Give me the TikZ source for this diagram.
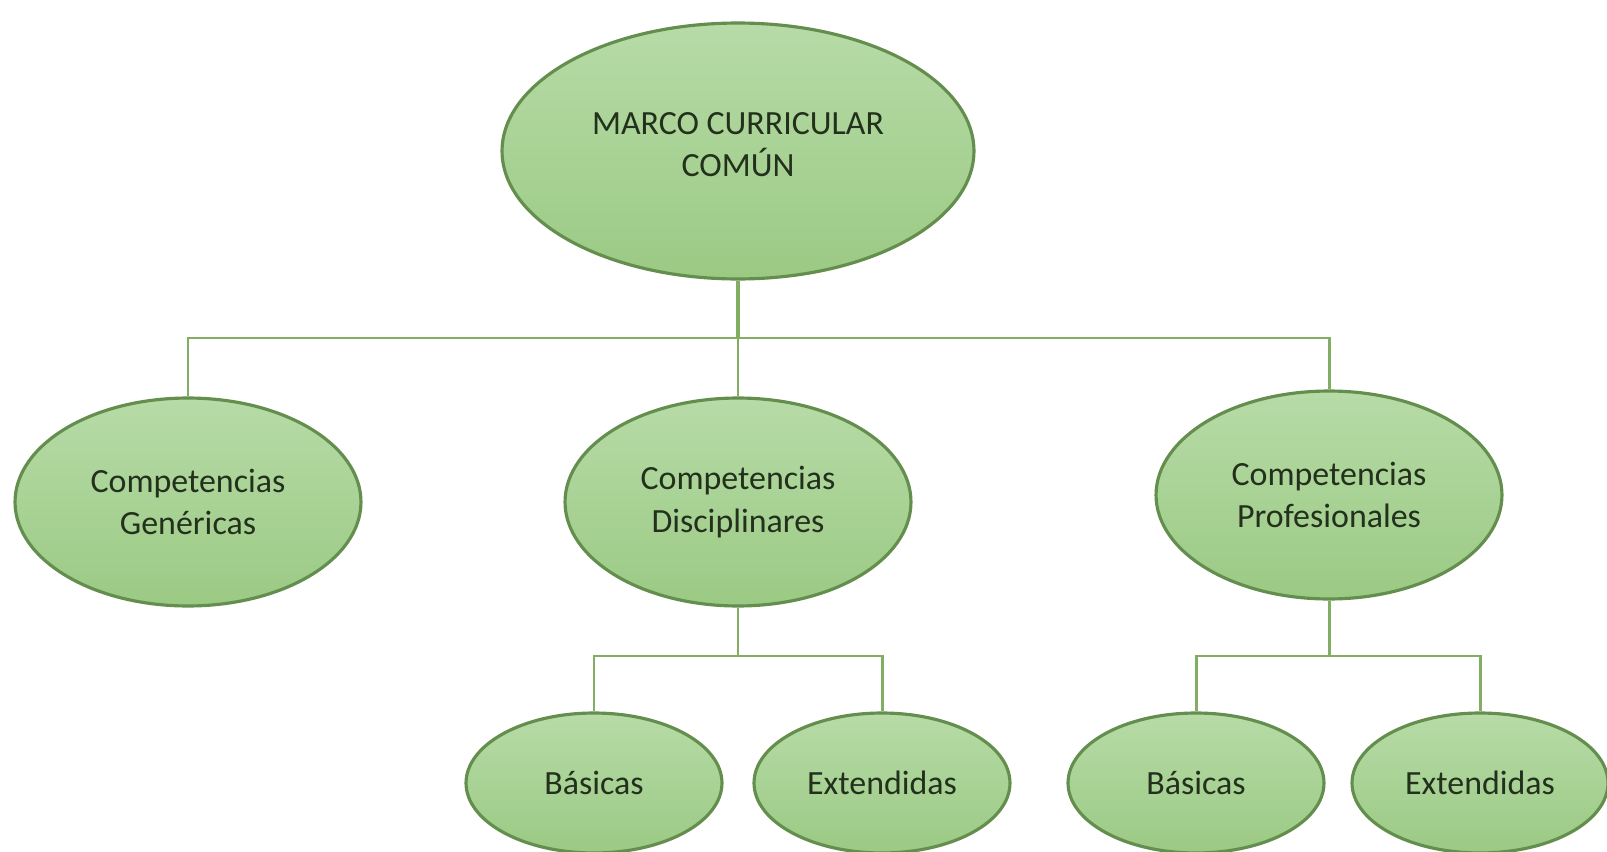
\documentclass[tikz,border=0pt]{standalone}
\usepackage{fontspec}
\setmainfont{Carlito}
\usepackage{tikz}
\usetikzlibrary{shapes.geometric, positioning}
\usepackage{xcolor}
\definecolor{verdechiaro}{HTML}{B7DBA7}
\definecolor{verdescuro}{HTML}{9BCA84}
\definecolor{bordoverde}{HTML}{648E4D}
\definecolor{lineaverde}{HTML}{82AE64}
\definecolor{testoverde}{HTML}{22301C}
\tikzset{
    elisse/.style = {ellipse, draw = bordoverde, line width = 1.8pt,
        top color = verdechiaro, bottom color = verdescuro,
        inner sep = 0pt, align = center, text = testoverde,
        font = \fontsize{19.3}{24}\selectfont},
    grande/.style = {elisse, minimum width = 9.44cm, minimum height = 5.12cm},
    media/.style = {elisse, minimum width = 6.92cm, minimum height = 4.16cm},
    piccola/.style = {elisse, minimum width = 5.12cm, minimum height = 2.8cm},
    connettore/.style = {draw = lineaverde, line width = 1.7pt}
}

\begin{document}
\begin{tikzpicture}[x = 0.02cm, y = -0.02cm]
    % Parametri
    \pgfmathsetmacro{\xc}{738}
    \pgfmathsetmacro{\ybus}{338}
    \pgfmathsetmacro{\ybustwo}{656}
    \pgfmathsetmacro{\ymed}{502}
    \pgfmathsetmacro{\ybas}{783}
    \useasboundingbox (0,0) rectangle (1607,852);

    % Nodo principale
    \node[grande] (mcc) at (\xc,151) {MARCO CURRICULAR\\COMÚN\rule[-7pt]{0pt}{7pt}};
    % Competenze
    \node[media] (gen) at (188,\ymed) {Competencias\\Genéricas};
    \node[media] (dis) at (\xc,\ymed) {Competencias\\Disciplinares};
    \node[media] (pro) at (1329,495) {Competencias\\Profesionales};
    % Foglie
    \node[piccola] (basdis) at (594,\ybas) {Básicas};
    \node[piccola] (extdis) at (882,\ybas) {Extendidas};
    \node[piccola] (baspro) at (1196,\ybas) {Básicas};
    \node[piccola] (extpro) at (1480,\ybas) {Extendidas};

    % Linee
    \coordinate (bus) at (\xc,\ybus);
    \coordinate (bustwo) at (\xc,\ybustwo);
    \draw[connettore, line width = 2.4pt] (mcc.south) -- (bus);
    \draw[connettore] (bus) -| (gen.north);
    \draw[connettore] (bus) -| (pro.north);
    \draw[connettore] (bus) -- (dis.north);
    \draw[connettore] (dis.south) -- (dis.south |- bustwo) -| (basdis.north);
    \draw[connettore] (dis.south |- bustwo) -| (extdis.north);
    \draw[connettore] (pro.south) -- (pro.south |- bustwo) -| (baspro.north);
    \draw[connettore] (pro.south |- bustwo) -| (extpro.north);
\end{tikzpicture}
\end{document}
